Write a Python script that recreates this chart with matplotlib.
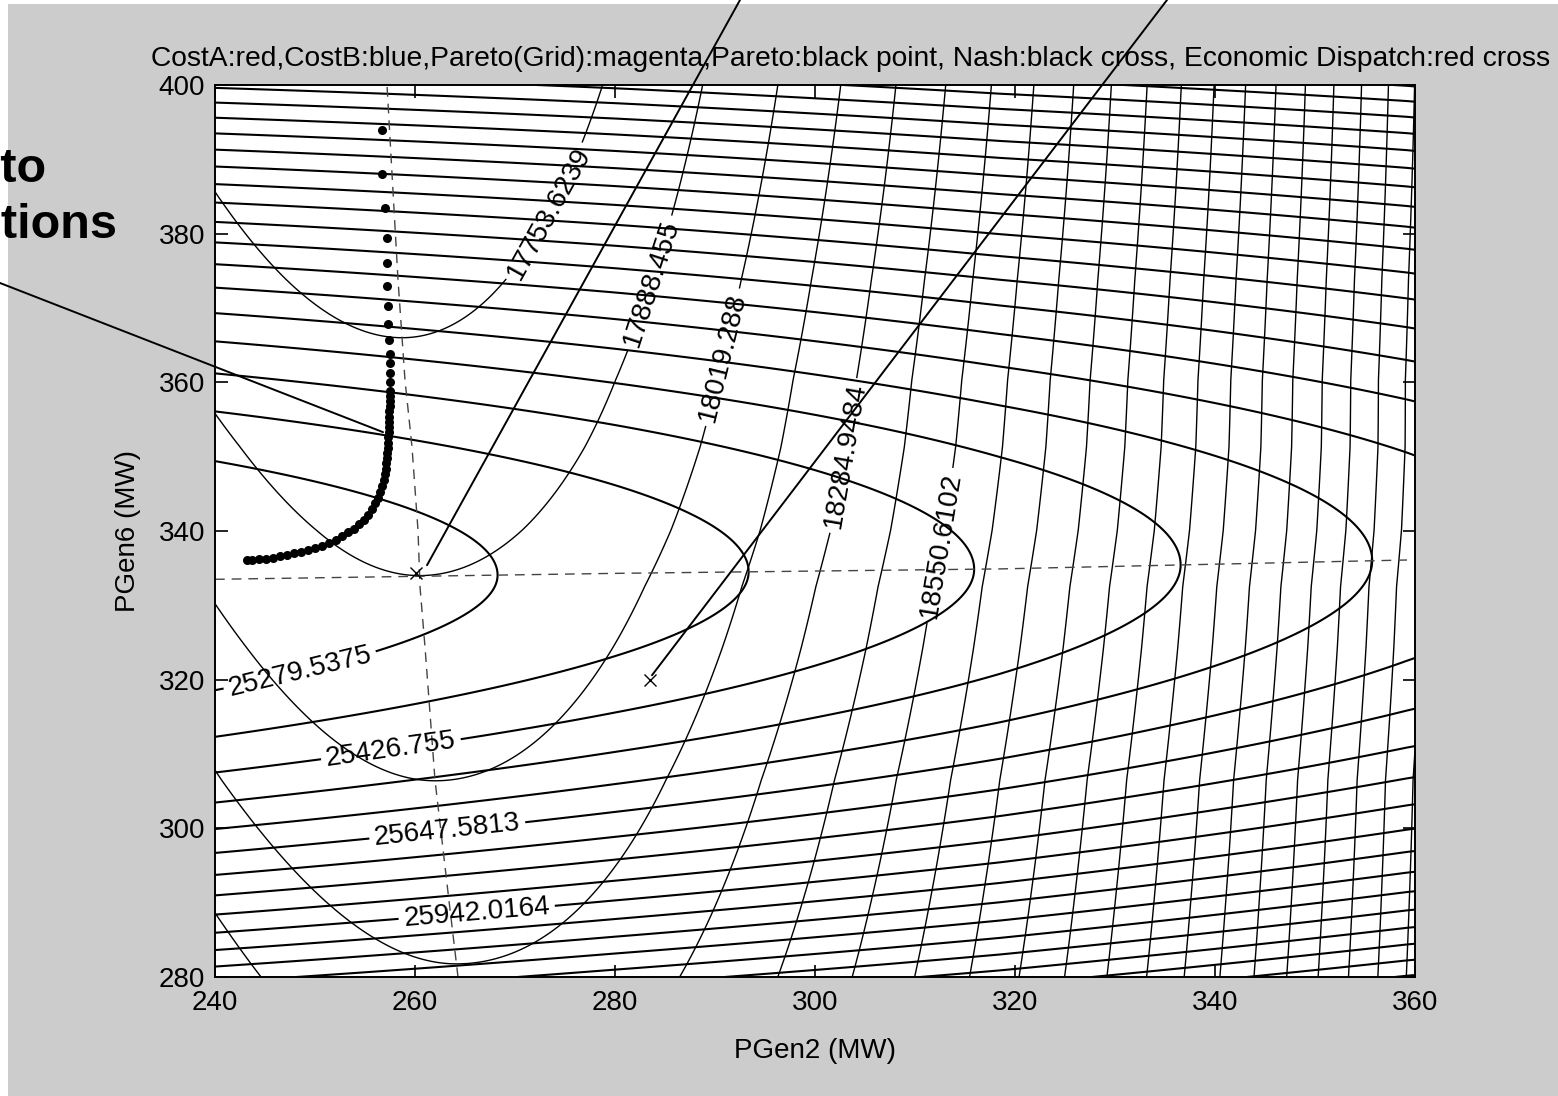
import numpy as np
import matplotlib
matplotlib.use('Agg')
from matplotlib import pyplot as plt
from matplotlib.patches import Rectangle

plt.rcParams['font.family'] = ['Liberation Sans', 'DejaVu Sans']

W, H = 1558, 1096

title = ('CostA:red,CostB:blue,Pareto(Grid):magenta,Pareto:black point, '
         'Nash:black cross, Economic Dispatch:red cross')

x_ticks = [240, 260, 280, 300, 320, 340, 360]
y_ticks = [280, 300, 320, 340, 360, 380, 400]

# reaction curves (dashed lines)
react2_y = [280.0, 291.4, 306.5, 315.5, 324.4, 332.5, 340.1, 351.3, 360.3, 373.8, 400.0]
react2_x = [264.3, 263.3, 262.0, 261.5, 261.0, 260.5, 260.3, 259.7, 259.0, 258.3, 257.2]
react6_x = [240.0, 280.0, 318.5, 359.2]
react6_y = [333.5, 334.3, 334.9, 336.1]

# CostA: value along the PGen6 reaction line (poly in PGen2-240) + curvature above/below it
costA_poly = [25207.2, 2.363, 0.00697]
costA_curv = [0.286, 0.325]
costA_base, costA_step = 25279.5375, 73.608767

# CostB: value along the PGen2 reaction line (poly in PGen6-334) + curvature left/right of it
costB_poly = [17886.455, -4.506, 0.0111]
costB_curv_left = [0.268, -0.0009]   # varies with PGen6-334
costB_curv_right = 0.25
costB_base, costB_step = 17753.6239, 132.83105

labelsA = ['25279.5375', '25426.755', '25647.5813', '25942.0164']
labelsA_k = [0, 2, 5, 9]
labelsA_pos = [(248.7, 320.0), (257.7, 309.6), (263.3, 298.8), (266.2, 288.2)]

labelsB = ['17753.6239', '17888.455', '18019.288', '18284.9484', '18550.6102']
labelsB_k = [0, 1, 2, 4, 6]
labelsB_pos = [(273.7, 382.5), (282.5, 373.8), (290.7, 363.4), (303.5, 350.0), (312.8, 338.0)]

pareto_x = [256.7, 256.7, 257.0, 257.2, 257.2, 257.2, 257.3, 257.3, 257.4, 257.5,
            257.5, 257.5, 257.5, 257.5, 257.5, 257.5, 257.5, 257.4, 257.4, 257.4,
            257.4, 257.4, 257.3, 257.3, 257.3, 257.2, 257.2, 257.1, 257.1, 257.0,
            256.9, 256.7, 256.5, 256.3, 256.0, 255.7, 255.3, 254.9, 254.4, 253.9,
            253.3, 252.7, 252.1, 251.4, 250.7, 250.0, 249.3, 248.6, 247.9, 247.2,
            246.5, 245.8, 245.1, 244.4, 243.7, 243.2]
pareto_y = [394.0, 388.0, 383.4, 379.4, 376.1, 373.0, 370.3, 367.8, 365.7, 363.8,
            362.6, 361.2, 360.0, 358.9, 358.2, 357.5, 356.8, 356.1, 355.4, 354.7,
            354.0, 353.3, 352.6, 351.9, 351.2, 350.5, 349.8, 349.1, 348.4, 347.7,
            346.9, 346.1, 345.3, 344.5, 343.7, 342.9, 342.2, 341.5, 340.9, 340.3,
            339.8, 339.3, 338.8, 338.4, 338.0, 337.7, 337.4, 337.2, 337.0, 336.8,
            336.6, 336.4, 336.3, 336.2, 336.1, 336.1]

nash = (260.1, 334.4)
dispatch = (283.5, 320.0)

# grid of cost values
xg = np.linspace(240, 360, 700)
yg = np.linspace(280, 400, 700)
X, Y = np.meshgrid(xg, yg)

yc = np.interp(X, react6_x, react6_y)
d = Y - yc
costA = np.polyval(costA_poly[::-1], X - 240) + np.where(d > 0, costA_curv[0], costA_curv[1]) * d ** 2

xs = np.interp(Y, react2_y, react2_x)
dx = X - xs
bl = costB_curv_left[0] + costB_curv_left[1] * (Y - 334)
costB = np.polyval(costB_poly[::-1], Y - 334) + np.where(dx < 0, bl, costB_curv_right) * dx ** 2

kA = np.arange(-2, 24)
kB = np.arange(-3, 24)
levelsA = [costA_base + costA_step * k for k in kA if k not in labelsA_k]
levelsB = [costB_base + costB_step * k for k in kB if k not in labelsB_k]
labA = [costA_base + costA_step * k for k in labelsA_k]
labB = [costB_base + costB_step * k for k in labelsB_k]

fig = plt.figure(figsize=(W / 100, H / 100), dpi=100, facecolor='white')
fig.patches.append(Rectangle((8 / W, 0), 1 - 8 / W, 1 - 4 / H, transform=fig.transFigure,
                             facecolor='#cccccc', edgecolor='none', zorder=-10))
ax = fig.add_axes([215 / W, 119 / H, 1200 / W, 892 / H])
ax.set_facecolor('white')

ax.contour(X, Y, costA, levels=levelsA, colors='black', linewidths=1.5, linestyles='solid')
ax.contour(X, Y, costB, levels=levelsB, colors='black', linewidths=1.0, linestyles='solid')
csA = ax.contour(X, Y, costA, levels=labA, colors='black', linewidths=1.5, linestyles='solid')
csB = ax.contour(X, Y, costB, levels=labB, colors='black', linewidths=1.0, linestyles='solid')

fmtA = dict(zip(csA.levels, labelsA))
fmtB = dict(zip(csB.levels, labelsB))
ax.clabel(csA, fmt=fmtA, manual=labelsA_pos, inline=True, fontsize=20, colors='black')
ax.clabel(csB, fmt=fmtB, manual=labelsB_pos, inline=True, fontsize=20, colors='black')

ax.plot(react2_x, react2_y, color='#444444', lw=1.0, linestyle=(0, (7, 5)))
ax.plot(react6_x, react6_y, color='#444444', lw=1.0, linestyle=(0, (7, 5)))

ax.plot(pareto_x, pareto_y, 'o', color='black', ms=6.5, mew=0)
ax.plot(*nash, 'x', color='black', ms=8, mew=1.0)
ax.plot(*dispatch, 'x', color='black', ms=8, mew=1.0)

ax.set_xlim(240, 360)
ax.set_ylim(280, 400)
ax.set_xticks(x_ticks)
ax.set_yticks(y_ticks)
ax.tick_params(direction='in', length=9, width=1.2, top=True, right=True, labelsize=20)
ax.tick_params(axis='x', pad=9)
ax.tick_params(axis='y', pad=7)
for sp in ax.spines.values():
    sp.set_linewidth(1.4)

ax.set_xlabel('PGen2 (MW)', fontsize=20)
ax.set_ylabel('PGen6 (MW)', fontsize=20)
ax.xaxis.set_label_coords(0.5, -0.068)
ax.yaxis.set_label_coords(-0.062, 0.5)

fig.text(851 / W, 1 - 66 / H, title, fontsize=20.3, ha='center', va='baseline')

# annotation text (runs off the left edge, as in the original) and leader lines
fig.text(47 / W, 1 - 182 / H, 'Pareto', fontsize=35, fontweight='bold', ha='right', va='baseline')
fig.text(117 / W, 1 - 238 / H, 'solutions', fontsize=35, fontweight='bold', ha='right', va='baseline')

line_kw = dict(arrowstyle='-', lw=1.4, color='black', shrinkA=0, shrinkB=0)
ax.annotate('', xy=(256.8, 353.3), xycoords='data', xytext=(0.0, 1 - 283 / H),
            textcoords='figure fraction', arrowprops=line_kw, annotation_clip=False)
ax.annotate('', xy=(261.2, 335.4), xycoords='data', xytext=(740 / W, 1.0),
            textcoords='figure fraction', arrowprops=line_kw, annotation_clip=False)
ax.annotate('', xy=(283.7, 320.6), xycoords='data', xytext=(1167 / W, 1.0),
            textcoords='figure fraction', arrowprops=line_kw, annotation_clip=False)

fig.savefig('out.png', dpi=100, facecolor=fig.get_facecolor())
